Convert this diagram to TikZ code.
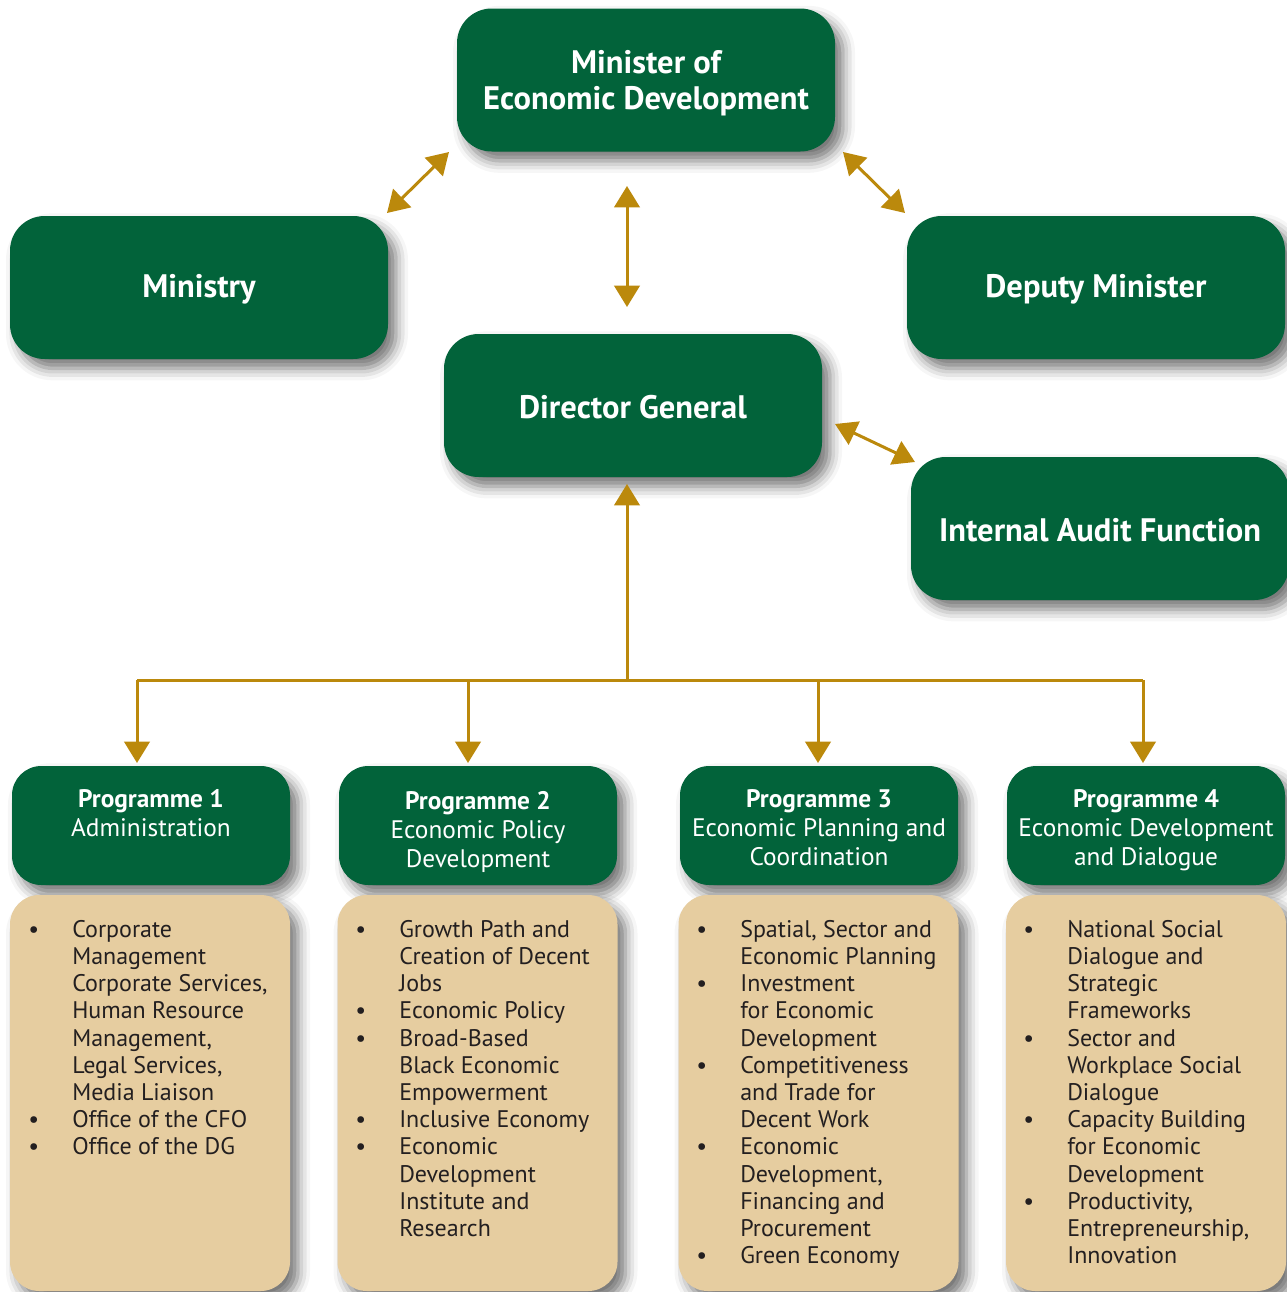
\documentclass[tikz,border=0pt]{standalone}
\usepackage{fontspec}
\setmainfont{PT Sans}
\usetikzlibrary{arrows.meta,shadows.blur}
\definecolor{dgreen}{RGB}{2,99,58}
\definecolor{tanfill}{RGB}{230,205,160}
\definecolor{gold}{RGB}{187,137,12}
\definecolor{txt}{RGB}{35,31,32}
\tikzset{
  shad/.style={blur shadow={shadow xshift=6pt, shadow yshift=-7pt, shadow blur radius=9pt, shadow opacity=55}},
  topbox/.style={shad, rounded corners=26pt, fill=dgreen,
    minimum width=283.5pt, minimum height=107.25pt, inner sep=0pt},
  toptext/.style={text=white, align=center, inner sep=0pt,
    font=\fontsize{24.4}{27}\selectfont\bfseries},
  progbox/.style={shad, rounded corners=22pt, fill=dgreen, minimum width=208.5pt, minimum height=89.25pt, inner sep=0pt},
  progtext/.style={text=white, align=center, inner sep=0pt, anchor=north,
    font=\fontsize{19}{21.75}\selectfont},
  tanbox/.style={shad, rounded corners=22pt, fill=tanfill, minimum width=210pt, minimum height=297pt, inner sep=0pt},
  listtext/.style={text=txt, align=left, inner sep=0pt, anchor=north west,
    font=\fontsize{18}{20.4}\selectfont},
  conn/.style={draw=gold, line width=2.25pt},
  biarrow/.style={conn, {Triangle[width=19pt,length=16pt]}-{Triangle[width=19pt,length=16pt]}},
  onearrow/.style={conn, -{Triangle[width=19pt,length=16pt]}},
}
\newcommand{\bu}{\makebox[33pt][l]{\textbullet}}
\newcommand{\ind}{\hspace*{33pt}}
\begin{document}
\begin{tikzpicture}[x=0.75pt,y=-0.75pt]
\useasboundingbox (0,0) rectangle (1287,1292);

% top level boxes
\node[topbox] (min) at (646,80) {};
\node[topbox] (ministry) at (199,287.5) {};
\node[topbox] (deputy) at (1096,287.5) {};
\node[topbox] (dg) at (633,405.5) {};
\node[topbox] (audit) at (1100,528.5) {};
\node[toptext] (mint) at (646,83) {Minister of\\Economic Development};
\node[toptext] (ministryt) at (199,289) {Ministry};
\node[toptext] (deputyt) at (1096,289) {Deputy Minister};
\node[toptext] (dgt) at (633,407) {Director General};
\node[toptext] (auditt) at (1100,530) {Internal Audit Function};

% arrow end points
\coordinate (a1) at (449,152);
\coordinate (a2) at (387,213);
\coordinate (b1) at (843,152);
\coordinate (b2) at (905,213);
\coordinate (c1) at (627,186);
\coordinate (c2) at (627,307);
\coordinate (d1) at (835,424);
\coordinate (d2) at (915,462);
\coordinate (e1) at (627,484);
\coordinate (bus) at (627,680);
\coordinate (busl) at (137,680);
\coordinate (busr) at (1143,680);
\coordinate (t1) at (137,763);
\coordinate (t2) at (468,763);
\coordinate (t3) at (818,763);
\coordinate (t4) at (1143,763);

\draw[biarrow] (a2) -- (a1);
\draw[biarrow] (b1) -- (b2);
\draw[biarrow] (c1) -- (c2);
\draw[biarrow] (d1) -- (d2);
\draw[onearrow] (bus) -- (e1);
\draw[conn] (busl) -- (busr);
\draw[onearrow] (busl) -- (t1);
\draw[onearrow] (busl -| t2) -- (t2);
\draw[onearrow] (busl -| t3) -- (t3);
\draw[onearrow] (busr) -- (t4);

% programme headers
\node[progbox] (p1) at (151,825.5) {};
\node[progbox] (p2) at (478,825.5) {};
\node[progbox] (p3) at (819,825.5) {};
\node[progbox] (p4) at (1146,825.5) {};
\node[progtext] (p1t) at (151,789) {\textbf{Programme 1}\\Administration};
\node[progtext] (p2t) at (478,791) {\textbf{Programme 2}\\Economic Policy\\Development};
\node[progtext] (p3t) at (819,789) {\textbf{Programme 3}\\Economic Planning and\\Coordination};
\node[progtext] (p4t) at (1146,789) {\textbf{Programme 4}\\Economic Development\\and Dialogue};

% tan boxes
\node[tanbox] (l1) at (150,1093) {};
\node[tanbox] (l2) at (477.5,1093) {};
\node[tanbox] (l3) at (818.5,1093) {};
\node[tanbox] (l4) at (1146,1093) {};

\node[listtext] (l1t) at (28,920) {\bu Corporate\\\ind Management\\\ind Corporate Services,\\\ind Human Resource\\\ind Management,\\\ind Legal Services,\\\ind Media Liaison\\\bu Office of the CFO\\\bu Office of the DG};
\node[listtext] (l2t) at (355,920) {\bu Growth Path and\\\ind Creation of Decent\\\ind Jobs\\\bu Economic Policy\\\bu Broad-Based\\\ind Black Economic\\\ind Empowerment\\\bu Inclusive Economy\\\bu Economic\\\ind Development\\\ind Institute and\\\ind Research};
\node[listtext] (l3t) at (696,920) {\bu Spatial, Sector and\\\ind Economic Planning\\\bu Investment\\\ind for Economic\\\ind Development\\\bu Competitiveness\\\ind and Trade for\\\ind Decent Work\\\bu Economic\\\ind Development,\\\ind Financing and\\\ind Procurement\\\bu Green Economy};
\node[listtext] (l4t) at (1023,920) {\bu National Social\\\ind Dialogue and\\\ind Strategic\\\ind Frameworks\\\bu Sector and\\\ind Workplace Social\\\ind Dialogue\\\bu Capacity Building\\\ind for Economic\\\ind Development\\\bu Productivity,\\\ind Entrepreneurship,\\\ind Innovation};
\end{tikzpicture}
\end{document}
